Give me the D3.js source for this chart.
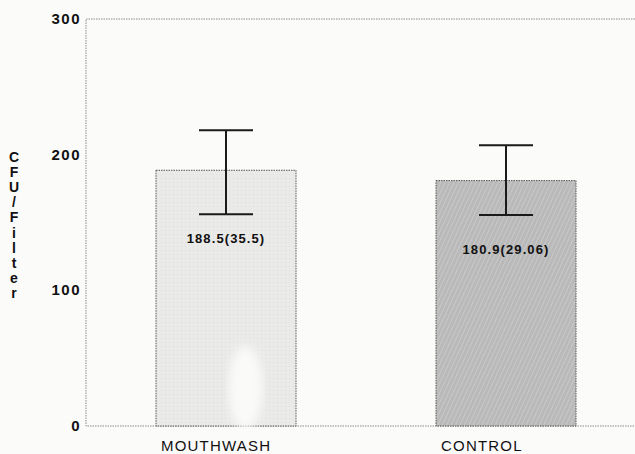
<html>
<head>
    <meta charset="utf-8" />
    <title>CFU per Filter</title>
    <style>
      body {
    margin: 0;
    padding: 0;
    background: #fbfbfa;
}

svg {
    display: block;
    font-family: 'Liberation Sans', Arial, sans-serif;
}

.frame {
    fill: none;
    stroke: #8a8a8a;
    stroke-width: 1;
    stroke-dasharray: 1.5 1;
}

.bar {
    stroke: #555;
    stroke-width: 1;
    stroke-dasharray: 1.5 1;
}

.err {
    stroke: #1a1a1a;
    stroke-width: 2;
    fill: none;
}

.tick-label {
    font-size: 15px;
    font-weight: bold;
    letter-spacing: 1.5px;
    fill: #111;
}

.cat-label {
    font-size: 15px;
    letter-spacing: 1.2px;
    fill: #111;
}

.val-label {
    font-size: 13px;
    font-weight: bold;
    letter-spacing: 1.1px;
    fill: #111;
}

.ytitle {
    font-size: 14px;
    font-weight: bold;
    fill: #111;
}
    </style>
    <script src="https://d3js.org/d3.v7.min.js"></script>
</head>
<body>
    <script>
// chart data
var categories = ["MOUTHWASH", "CONTROL"];
var means = [188.5, 180.9];
var errLow = [156, 155.5];
var errHigh = [218, 207];
var valueLabels = ["188.5(35.5)", "180.9(29.06)"];
var yTicks = [0, 100, 200, 300];
var yTitle = "CFU/Filter";

var Chart = (function (window, d3) {

    var width = 635, height = 454;
    var left = 86, top = 19, bottom = 426;

    var svg = d3.select("body").append("svg")
        .attr("width", width)
        .attr("height", height);

    var defs = svg.append("defs");

    // light speckle for mouthwash bar
    var p1 = defs.append("pattern")
        .attr("id", "lightFill")
        .attr("patternUnits", "userSpaceOnUse")
        .attr("width", 4).attr("height", 4);
    p1.append("rect").attr("width", 4).attr("height", 4).attr("fill", "#eaeae9");
    p1.append("rect").attr("x", 1).attr("y", 2).attr("width", 1).attr("height", 1).attr("fill", "#dededd");

    // diagonal hatch for control bar
    var p2 = defs.append("pattern")
        .attr("id", "hatch")
        .attr("patternUnits", "userSpaceOnUse")
        .attr("width", 4).attr("height", 4)
        .attr("patternTransform", "rotate(25)");
    p2.append("rect").attr("width", 4).attr("height", 4).attr("fill", "#b9b9b9");
    p2.append("line").attr("x1", 0).attr("y1", 0).attr("x2", 0).attr("y2", 4)
        .attr("stroke", "#d2d2d2").attr("stroke-width", 1.2);

    var blur = defs.append("filter").attr("id", "soft");
    blur.append("feGaussianBlur").attr("stdDeviation", 5);

    var x = d3.scaleBand()
        .domain(categories)
        .range([left, 646])
        .paddingInner(0.5)
        .paddingOuter(0.25);

    var y = d3.scaleLinear()
        .domain([0, 300])
        .range([bottom, top]);

    // frame (no right border)
    svg.append("path")
        .attr("class", "frame")
        .attr("d", "M" + width + "," + y(300) + "H" + left + "V" + y(0) + "H" + width);

    var data = categories.map(function (c, i) {
        return { cat: c, mean: means[i], lo: errLow[i], hi: errHigh[i], label: valueLabels[i] };
    });

    svg.selectAll(".bar")
        .data(data)
        .enter().append("rect")
        .attr("class", "bar")
        .attr("x", function (d) { return x(d.cat); })
        .attr("y", function (d) { return y(d.mean); })
        .attr("width", x.bandwidth())
        .attr("height", function (d) { return y(0) - y(d.mean); })
        .attr("fill", function (d, i) { return i === 0 ? "url(#lightFill)" : "url(#hatch)"; });

    // faint white blot near the bottom of the first bar (scan artefact)
    svg.append("ellipse")
        .attr("cx", x(categories[0]) + x.bandwidth() * 0.64)
        .attr("cy", y(28))
        .attr("rx", 17).attr("ry", 42)
        .attr("fill", "#fafaf9")
        .attr("filter", "url(#soft)");

    // error bars
    var capHalf = 27;
    svg.selectAll(".err")
        .data(data)
        .enter().append("path")
        .attr("class", "err")
        .attr("d", function (d) {
            var cx = x(d.cat) + x.bandwidth() / 2;
            return "M" + (cx - capHalf) + "," + y(d.hi) + "H" + (cx + capHalf) +
                "M" + cx + "," + y(d.hi) + "V" + y(d.lo) +
                "M" + (cx - capHalf) + "," + y(d.lo) + "H" + (cx + capHalf);
        });

    // value labels inside bars
    svg.selectAll(".val-label")
        .data(data)
        .enter().append("text")
        .attr("class", "val-label")
        .attr("text-anchor", "middle")
        .attr("x", function (d) { return x(d.cat) + x.bandwidth() / 2; })
        .attr("y", function (d) { return y(d.mean) + 73; })
        .text(function (d) { return d.label; });

    // y tick labels
    svg.selectAll(".tick-label")
        .data(yTicks)
        .enter().append("text")
        .attr("class", "tick-label")
        .attr("text-anchor", "end")
        .attr("x", left - 5)
        .attr("y", function (d) { return y(d) + 5; })
        .text(function (d) { return d; });

    // category labels, set from the left edge of each bar
    svg.selectAll(".cat-label")
        .data(categories)
        .enter().append("text")
        .attr("class", "cat-label")
        .attr("text-anchor", "start")
        .attr("x", function (d) { return x(d) + 5; })
        .attr("y", 451)
        .text(function (d) { return d; });

    // stacked vertical axis title
    var letters = yTitle.split("");
    svg.append("text")
        .attr("class", "ytitle")
        .attr("text-anchor", "middle")
        .selectAll("tspan")
        .data(letters)
        .enter().append("tspan")
        .attr("x", 14)
        .attr("y", function (d, i) { return 162 + i * 15.1; })
        .text(function (d) { return d; });

})(window, d3);
    </script>
</body>
</html>
